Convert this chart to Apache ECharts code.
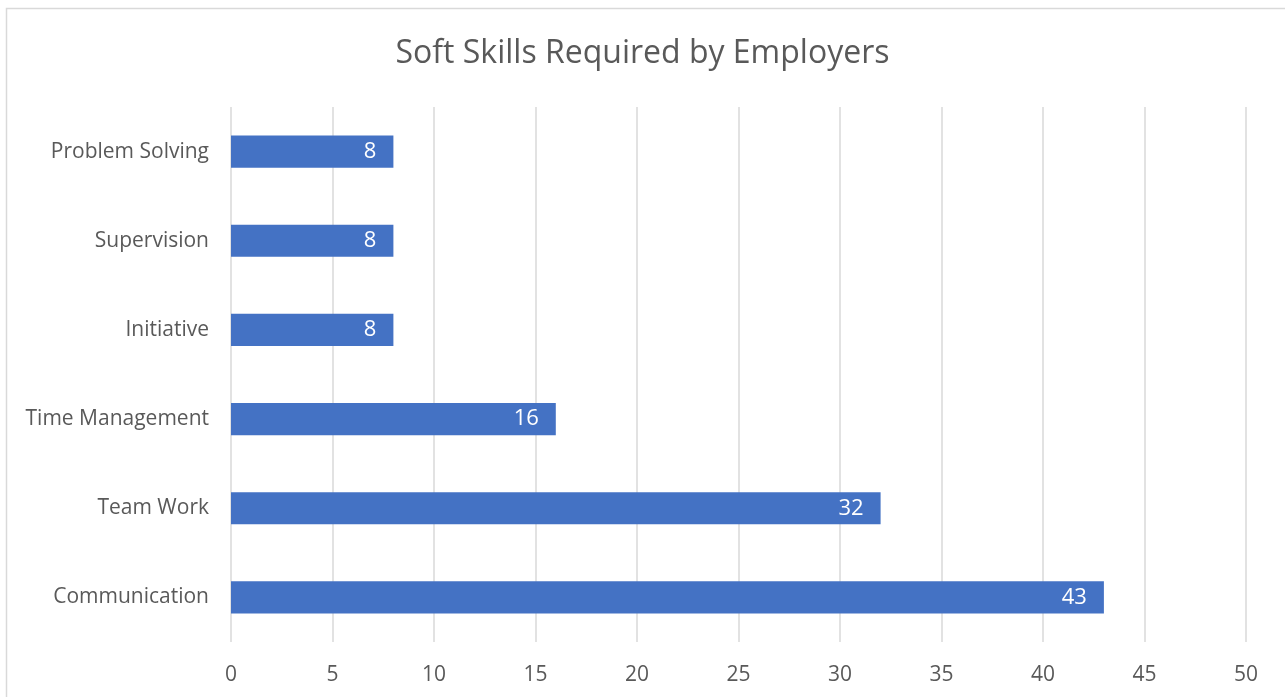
<!DOCTYPE html>
<html>
<head>
<meta charset="utf-8">
<script src="https://cdn.jsdelivr.net/npm/echarts@6/dist/echarts.min.js"></script>
<style>
html,body{margin:0;padding:0;background:#fff;}
#c{width:1285px;height:697px;}
</style>
</head>
<body>
<div id="c"></div>
<script>
var categories = ['Communication', 'Team Work', 'Time Management', 'Initiative', 'Supervision', 'Problem Solving'];
var values = [43, 32, 16, 8, 8, 8];
var titleText = 'Soft Skills Required by Employers';

var chart = echarts.init(document.getElementById('c'), null, {renderer: 'canvas'});
var FONT = '"Open Sans", sans-serif';
chart.setOption({
  animation: false,
  backgroundColor: '#fff',
  graphic: [{
    type: 'rect',
    shape: {x: 6.5, y: 8.5, width: 1300, height: 720},
    style: {fill: 'none', stroke: '#d9d9d9', lineWidth: 1.5},
    silent: true
  }],
  title: {
    text: titleText,
    left: 'center',
    top: 33,
    textStyle: {fontFamily: FONT, fontSize: 32, fontWeight: 'normal', color: '#595959'}
  },
  grid: {left: 231, right: 39, top: 107, bottom: 55, containLabel: false},
  xAxis: {
    type: 'value',
    min: 0, max: 50, interval: 5,
    axisLine: {show: false},
    axisTick: {show: false},
    splitLine: {show: true, lineStyle: {color: '#d9d9d9', width: 1.5}},
    axisLabel: {fontFamily: FONT, fontSize: 21, color: '#595959', margin: 23}
  },
  yAxis: {
    type: 'category',
    data: categories,
    axisLine: {show: false},
    axisTick: {show: false},
    axisLabel: {fontFamily: FONT, fontSize: 21, color: '#595959', margin: 22}
  },
  series: [{
    type: 'bar',
    data: values,
    barWidth: '36%',
    itemStyle: {color: '#4472c4'},
    label: {
      show: true,
      position: 'insideRight',
      distance: 17,
      fontFamily: FONT,
      fontSize: 22,
      color: '#fff'
    }
  }]
});
</script>
</body>
</html>
